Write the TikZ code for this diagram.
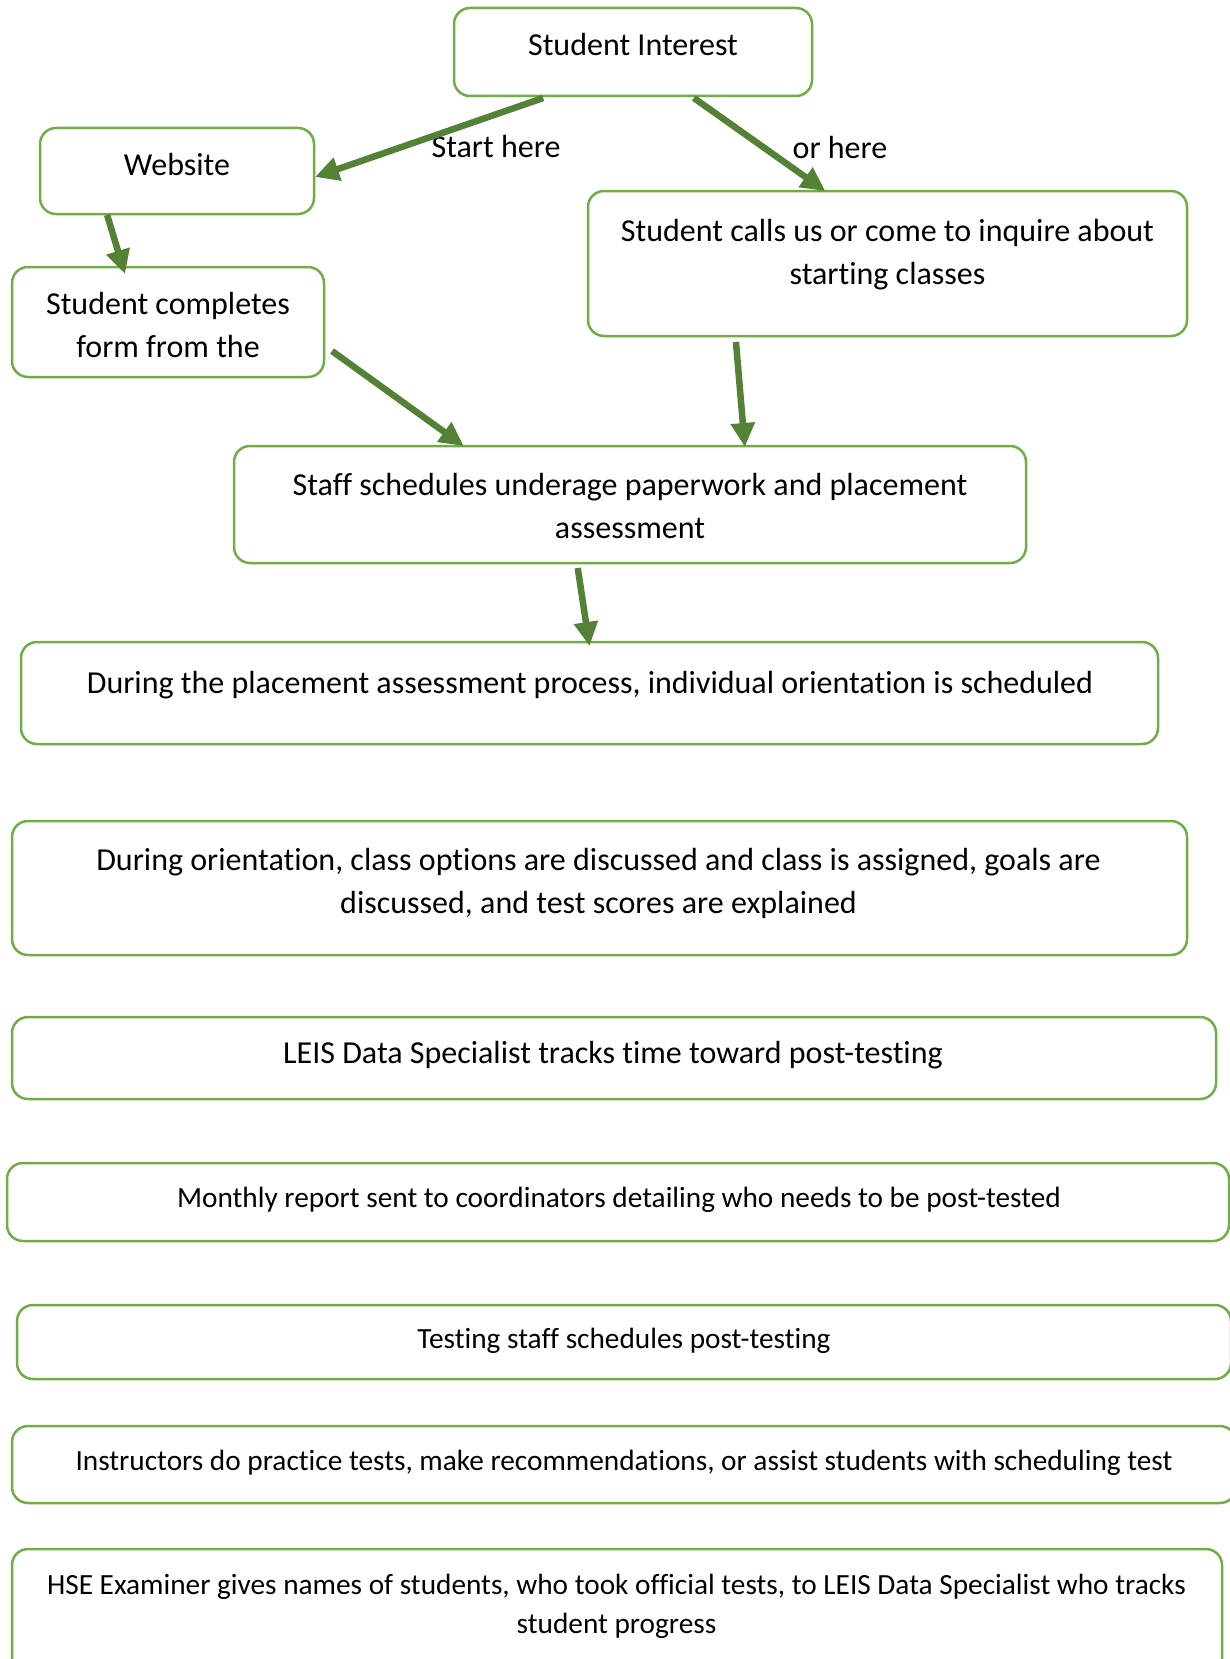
\documentclass[tikz,border=0pt]{standalone}
\usepackage{fontspec}
\setmainfont{Carlito}[RawFeature={-liga;-clig;-dlig;-calt}]
\usetikzlibrary{arrows.meta,calc}
\definecolor{boxgreen}{HTML}{70AD47}
\definecolor{arrowgreen}{HTML}{538135}
\begin{document}
\begin{tikzpicture}[x=1pt,y=-1pt,
  box/.style={draw=boxgreen, line width=2.5pt, rounded corners=16pt, inner sep=0pt, outer sep=0pt},
  big/.style={font=\fontsize{32}{43}\selectfont, align=center, inner sep=0pt},
  small/.style={font=\fontsize{29.3}{39}\selectfont, align=center, inner sep=0pt},
  flow/.style={draw=arrowgreen, line width=6.5pt, -{Triangle[length=24pt,width=23pt]}}
]
\useasboundingbox (0,0) rectangle (1230,1659);

% boxes
\node[box, minimum width=358pt, minimum height=88pt]  (si)     at (633,52)     {};
\node[box, minimum width=274pt, minimum height=86pt]  (ws)     at (177,171)    {};
\node[box, minimum width=312pt, minimum height=110pt] (sc)     at (168,322)    {};
\node[box, minimum width=599pt, minimum height=145pt] (call)   at (887.5,263.5){};
\node[box, minimum width=792pt, minimum height=117pt] (staff)  at (630,504.5)  {};
\node[box, minimum width=1137pt, minimum height=102pt](place)  at (589.5,693)  {};
\node[box, minimum width=1175pt, minimum height=134pt](orient) at (599.5,888)  {};
\node[box, minimum width=1204pt, minimum height=82pt] (leis)   at (614,1058)   {};
\node[box, minimum width=1222pt, minimum height=78pt] (month)  at (618,1202)   {};
\node[box, minimum width=1214pt, minimum height=74pt] (test)   at (624,1342)   {};
\node[box, minimum width=1224pt, minimum height=77pt] (instr)  at (624,1464.5) {};
\node[box, minimum width=1210pt, minimum height=131pt](hse)    at (617,1614.5) {};

% texts
\node[big] (si-t)     at (633,45)     {Student Interest};
\node[big] (ws-t)     at (177,165)    {Website};
\node[big] (sc-t)     at (168,325)    {Student completes\\form from the};
\node[big] (call-t)   at (887.5,255)  {Student calls us or come to inquire about\\starting classes};
\node[big] (staff-t)  at (630,506.5)  {Staff schedules underage paperwork and placement\\assessment};
\node[big] (place-t)  at (590,685)    {During the placement assessment process, individual orientation is scheduled};
\node[big] (orient-t) at (598.5,883)  {During orientation, class options are discussed and class is assigned, goals are\\discussed, and test scores are explained};
\node[big] (leis-t)   at (613,1055)   {LEIS Data Specialist tracks time toward post-testing};
\node[small] (month-t) at (619,1200)  {Monthly report sent to coordinators detailing who needs to be post-tested};
\node[small] (test-t)  at (624,1341)  {Testing staff schedules post-testing};
\node[small] (instr-t) at (624,1462.5){Instructors do practice tests, make recommendations, or assist students with scheduling test};
\node[small] (hse-t)   at (616.5,1606.5){HSE Examiner gives names of students, who took official tests, to LEIS Data Specialist who tracks\\student progress};

% path labels
\node[big] (start-l) at (496,147) {Start here};
\node[big] (or-l)    at (840,147) {or here};

% connectors
\draw[flow] ($(si.south west)!0.249!(si.south east)+(0,2)$) -- ([shift={(1,6)}]ws.east);
\draw[flow] ($(si.south west)!0.67!(si.south east)+(0,2)$) -- ($(call.north west)!0.396!(call.north east)$);
\draw[flow] ($(ws.south west)!0.245!(ws.south east)+(0,1)$) -- ($(sc.north west)!0.362!(sc.north east)+(0,7)$);
\draw[flow] ([shift={(8,29)}]sc.east) -- ($(staff.north west)!0.29!(staff.north east)$);
\draw[flow] ($(call.south west)!0.247!(call.south east)+(0,6)$) -- ($(staff.north west)!0.645!(staff.north east)+(0,1)$);
\draw[flow] ($(staff.south west)!0.434!(staff.south east)+(0,5)$) -- ($(place.north west)!0.5!(place.north east)+(0,4)$);
\end{tikzpicture}
\end{document}
